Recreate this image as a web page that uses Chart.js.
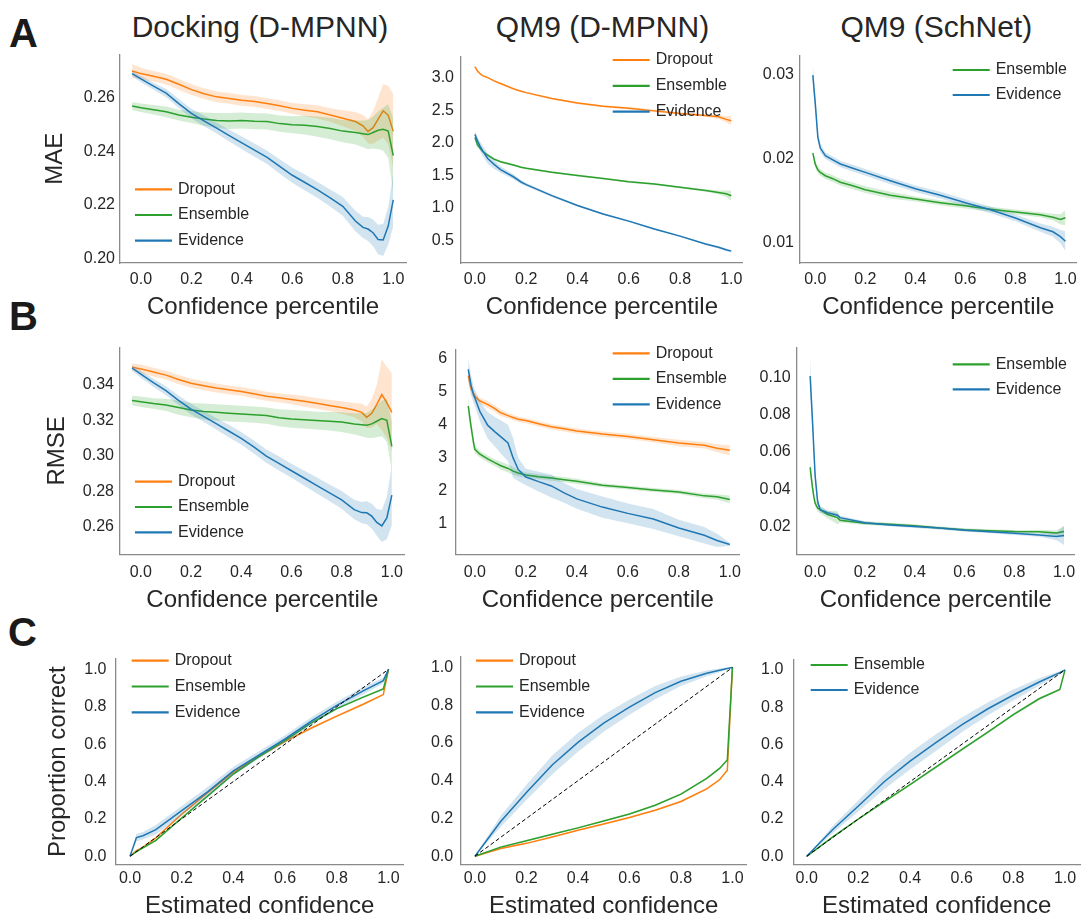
<!DOCTYPE html>
<html><head><meta charset="utf-8">
<script src="https://cdn.jsdelivr.net/npm/chart.js@4.4.1/dist/chart.umd.min.js"></script>
<style>
html,body{margin:0;padding:0;background:#fff;overflow:hidden;width:1084px;height:918px;}
canvas{position:absolute;}
.t{position:absolute;font-family:"Liberation Sans",Arial,Helvetica,sans-serif;color:#262626;white-space:nowrap;line-height:1;}
.col{font-size:30px;transform:translateX(-50%);}
.let{font-size:40px;font-weight:bold;color:#1a1a1a;}
</style></head><body>
<div class="t let" style="left:9px;top:13px">A</div>
<div class="t let" style="left:9px;top:295.5px">B</div>
<div class="t let" style="left:8px;top:612px">C</div>
<div class="t col" style="left:260px;top:12px">Docking (D-MPNN)</div>
<div class="t col" style="left:602.5px;top:12px">QM9 (D-MPNN)</div>
<div class="t col" style="left:936.3px;top:12px">QM9 (SchNet)</div>
<script>
// ---------------- DATA ----------------
const xTickLabels = ['0.0','0.2','0.4','0.6','0.8','1.0'];
const calTickLabels = ['0.0','0.2','0.4','0.6','0.8','1.0'];
const DIAG = [0, 1];

// Docking (D-MPNN) confidence percentile grid (rows A and B)
const dockX = [-0.035,0.0,0.05,0.1,0.15,0.2,0.25,0.3,0.35,0.4,0.45,0.5,0.55,0.6,0.65,0.7,0.75,0.8,0.85,0.88,0.9,0.92,0.94,0.96,0.98,1.0];
// A1 MAE
const dockMaeDropout = [0.2700,0.2690,0.2680,0.2669,0.2650,0.2630,0.2615,0.2603,0.2597,0.2590,0.2586,0.2578,0.2570,0.2560,0.2553,0.2547,0.2535,0.2523,0.2511,0.2495,0.2474,0.2488,0.2520,0.2551,0.2535,0.2474];
const dockMaeDropoutErr = [0.0025,0.0022,0.002,0.002,0.002,0.002,0.002,0.002,0.002,0.002,0.002,0.002,0.002,0.002,0.0022,0.0025,0.0025,0.003,0.0035,0.004,0.0045,0.006,0.008,0.010,0.011,0.014];
const dockMaeEnsemble = [0.2569,0.2562,0.2555,0.2547,0.2535,0.2527,0.2520,0.2515,0.2513,0.2515,0.2512,0.2511,0.2503,0.2499,0.2497,0.2492,0.2485,0.2475,0.2470,0.2465,0.2462,0.2470,0.2478,0.2482,0.2475,0.2383];
const dockMaeEnsembleErr = [0.0015,0.0016,0.0018,0.002,0.002,0.0022,0.0025,0.0028,0.003,0.003,0.003,0.003,0.003,0.0032,0.0035,0.0038,0.004,0.0042,0.0045,0.005,0.0055,0.006,0.007,0.008,0.010,0.014];
const dockMaeEvidence = [0.2690,0.2670,0.2643,0.2617,0.2578,0.2541,0.2513,0.2486,0.2458,0.2431,0.2404,0.2377,0.2343,0.2310,0.2283,0.2255,0.2225,0.2194,0.2139,0.2115,0.2109,0.2095,0.2070,0.2068,0.2120,0.2218];
const dockMaeEvidenceErr = [0.001,0.0012,0.0013,0.0015,0.0017,0.0018,0.002,0.002,0.0022,0.0024,0.0025,0.0025,0.0027,0.0028,0.003,0.003,0.0032,0.0035,0.0038,0.004,0.0045,0.005,0.0055,0.006,0.007,0.010];
// B1 RMSE
const dockRmseDropout = [0.3500,0.3490,0.3472,0.3455,0.3430,0.3409,0.3395,0.3382,0.3372,0.3363,0.3350,0.3336,0.3327,0.3318,0.3307,0.3296,0.3284,0.3272,0.3258,0.3245,0.3217,0.3240,0.3290,0.3345,0.3300,0.3245];
const dockRmseDropoutErr = [0.002,0.0025,0.0025,0.0025,0.0025,0.0025,0.0025,0.0025,0.0025,0.0025,0.0025,0.0025,0.0025,0.0027,0.003,0.003,0.0032,0.0035,0.004,0.005,0.006,0.008,0.011,0.020,0.020,0.022];
const dockRmseEnsemble = [0.3312,0.3305,0.3295,0.3287,0.3272,0.3258,0.3250,0.3245,0.3240,0.3236,0.3232,0.3227,0.3215,0.3208,0.3204,0.3199,0.3195,0.3190,0.3180,0.3175,0.3172,0.3180,0.3195,0.3210,0.3200,0.3053];
const dockRmseEnsembleErr = [0.0027,0.003,0.003,0.0035,0.004,0.004,0.0045,0.0046,0.0046,0.0046,0.0046,0.0046,0.0048,0.005,0.005,0.005,0.0052,0.0055,0.006,0.0065,0.007,0.008,0.009,0.010,0.012,0.014];
const dockRmseEvidence = [0.3495,0.3460,0.3412,0.3367,0.3313,0.3263,0.3222,0.3181,0.3140,0.3099,0.3050,0.2998,0.2957,0.2916,0.2875,0.2834,0.2793,0.2752,0.2697,0.2680,0.2679,0.2660,0.2625,0.2605,0.2650,0.2779];
const dockRmseEvidenceErr = [0.0015,0.002,0.0022,0.0025,0.0027,0.003,0.003,0.0032,0.0035,0.0035,0.0037,0.0037,0.004,0.004,0.0042,0.0045,0.0047,0.005,0.0055,0.006,0.0065,0.007,0.0075,0.009,0.012,0.017];

// A2 QM9 (D-MPNN) MAE
const qmMaeX = [0.0,0.01,0.02,0.03,0.05,0.075,0.1,0.15,0.18,0.2,0.3,0.4,0.5,0.6,0.7,0.8,0.9,0.95,0.98,1.0];
const qmMaeDropout = [3.17,3.10,3.06,3.03,3.00,2.95,2.91,2.83,2.79,2.77,2.68,2.61,2.56,2.53,2.49,2.45,2.42,2.40,2.36,2.34];
const qmMaeDropoutErr = [0.01,0.01,0.01,0.01,0.01,0.01,0.01,0.01,0.01,0.01,0.01,0.015,0.015,0.02,0.02,0.02,0.02,0.03,0.05,0.07];
const qmMaeEnsemble = [2.08,1.97,1.92,1.87,1.81,1.75,1.71,1.66,1.625,1.61,1.55,1.50,1.455,1.405,1.37,1.32,1.27,1.24,1.22,1.19];
const qmMaeEnsembleErr = [0.04,0.04,0.03,0.03,0.02,0.02,0.02,0.015,0.015,0.015,0.015,0.015,0.015,0.015,0.015,0.015,0.02,0.03,0.05,0.08];
const qmMaeEvidence = [2.13,2.03,1.95,1.88,1.76,1.67,1.59,1.48,1.40,1.36,1.19,1.04,0.91,0.80,0.68,0.57,0.45,0.40,0.36,0.34];
const qmMaeEvidenceErr = [0.05,0.06,0.07,0.08,0.08,0.07,0.05,0.04,0.03,0.025,0.02,0.015,0.015,0.015,0.015,0.015,0.015,0.02,0.02,0.02];

// A3 QM9 (SchNet) MAE
const snMaeX = [-0.01,0.0,0.01,0.02,0.04,0.07,0.1,0.15,0.2,0.3,0.4,0.5,0.6,0.7,0.8,0.9,0.95,0.98,1.0];
const snMaeEnsemble = [0.0207,0.01935,0.0187,0.01839,0.0180,0.01765,0.01723,0.0168,0.01634,0.01568,0.01522,0.01479,0.01441,0.01401,0.01367,0.01336,0.01306,0.0128,0.0130];
const snMaeEnsembleErr = [0.0004,0.0004,0.0004,0.0004,0.0004,0.0004,0.0004,0.0004,0.0004,0.0004,0.0003,0.0003,0.0003,0.0003,0.0003,0.0003,0.0004,0.0006,0.0009];
const snMaeEvidence = [0.0300,0.0265,0.0226,0.0213,0.0204,0.0199,0.0194,0.0189,0.0184,0.0174,0.01645,0.01568,0.01479,0.01394,0.01297,0.01181,0.01132,0.01074,0.01019];
const snMaeEvidenceErr = [0.0013,0.001,0.0006,0.0005,0.0004,0.0004,0.0004,0.0004,0.0004,0.0004,0.0004,0.0004,0.0004,0.0004,0.0004,0.0005,0.0006,0.0008,0.0012];

// B2 QM9 (D-MPNN) RMSE
const qmRmseX = [-0.026,-0.015,-0.005,0.0,0.02,0.05,0.08,0.1,0.13,0.15,0.17,0.2,0.25,0.3,0.35,0.4,0.5,0.6,0.7,0.8,0.9,0.95,1.0];
const qmRmseDropout = [5.49,5.10,4.95,4.86,4.72,4.62,4.48,4.37,4.28,4.22,4.17,4.13,4.03,3.94,3.88,3.81,3.72,3.65,3.55,3.45,3.38,3.29,3.23];
const qmRmseDropoutErr = [0.2,0.15,0.12,0.1,0.1,0.1,0.1,0.1,0.08,0.08,0.08,0.08,0.08,0.08,0.08,0.08,0.08,0.08,0.08,0.1,0.1,0.12,0.15];
const qmRmseEnsemble = [4.57,3.95,3.45,3.26,3.11,2.97,2.85,2.77,2.68,2.60,2.54,2.48,2.43,2.39,2.34,2.29,2.17,2.10,2.03,1.97,1.85,1.82,1.74];
const qmRmseEnsembleErr = [0.3,0.2,0.15,0.12,0.1,0.1,0.1,0.12,0.12,0.12,0.1,0.08,0.08,0.08,0.08,0.08,0.06,0.06,0.06,0.06,0.07,0.08,0.12];
const qmRmseEvidence = [5.68,5.20,4.90,4.81,4.40,3.99,3.78,3.65,3.45,3.00,2.65,2.42,2.28,2.15,1.94,1.76,1.51,1.32,1.15,0.88,0.66,0.50,0.38];
const qmRmseEvidenceErr = [0.35,0.3,0.25,0.25,0.3,0.4,0.45,0.5,0.55,0.6,0.35,0.25,0.3,0.35,0.3,0.3,0.32,0.3,0.3,0.25,0.25,0.2,0.05];

// B3 QM9 (SchNet) RMSE
const snRmseX = [-0.02,-0.015,-0.01,-0.005,0.0,0.01,0.02,0.05,0.09,0.1,0.2,0.3,0.4,0.5,0.6,0.7,0.8,0.9,0.97,1.0];
const snRmseEnsemble = [0.0518,0.046,0.0405,0.036,0.0327,0.030,0.0292,0.0266,0.0249,0.0235,0.0219,0.0214,0.0205,0.0193,0.0184,0.0179,0.0175,0.0174,0.0167,0.0175];
const snRmseEnsembleErr = [0.005,0.004,0.003,0.0025,0.002,0.002,0.002,0.002,0.0035,0.0012,0.001,0.0008,0.0008,0.0008,0.0008,0.0008,0.0008,0.0009,0.0015,0.003];
const snRmseEvidence = [0.1007,0.088,0.0752,0.061,0.0474,0.0335,0.0292,0.0275,0.0262,0.0249,0.0222,0.0210,0.0201,0.0193,0.0182,0.0174,0.0165,0.0156,0.0148,0.0153];
const snRmseEvidenceErr = [0.01,0.008,0.006,0.004,0.003,0.002,0.0015,0.0012,0.001,0.001,0.0008,0.0007,0.0007,0.0007,0.0007,0.0008,0.0009,0.001,0.002,0.005];

// C1 Docking calibration
const dockCalX = [0,0.025,0.05,0.1,0.2,0.3,0.4,0.5,0.6,0.7,0.8,0.9,0.98,1.0];
const dockCalDropout = [0,0.03,0.048,0.099,0.225,0.34,0.45,0.535,0.615,0.685,0.75,0.812,0.865,1.0];
const dockCalDropoutErr = [0,0.005,0.005,0.006,0.006,0.006,0.006,0.006,0.006,0.006,0.006,0.006,0.005,0];
const dockCalEnsemble = [0,0.025,0.045,0.085,0.205,0.322,0.44,0.535,0.62,0.712,0.79,0.85,0.895,1.0];
const dockCalEnsembleErr = [0,0.005,0.005,0.006,0.006,0.006,0.006,0.006,0.006,0.006,0.006,0.006,0.005,0];
const dockCalEvidence = [0,0.1,0.11,0.142,0.244,0.345,0.457,0.543,0.628,0.722,0.807,0.884,0.94,1.0];
const dockCalEvidenceErr = [0,0.02,0.02,0.025,0.025,0.025,0.022,0.02,0.02,0.02,0.02,0.02,0.015,0];

// C2 QM9 (D-MPNN) calibration
const qmCalX = [0,0.1,0.2,0.3,0.4,0.5,0.6,0.7,0.8,0.9,0.95,0.98,1.0];
const qmCalDropout = [0,0.041,0.068,0.102,0.137,0.171,0.205,0.243,0.29,0.357,0.405,0.455,1.0];
const qmCalDropoutErr = [0,0.004,0.004,0.004,0.004,0.004,0.004,0.004,0.005,0.005,0.005,0.005,0];
const qmCalEnsemble = [0,0.048,0.082,0.116,0.15,0.186,0.224,0.270,0.329,0.412,0.465,0.51,1.0];
const qmCalEnsembleErr = [0,0.004,0.004,0.004,0.004,0.004,0.004,0.004,0.005,0.005,0.005,0.005,0];
const qmCalEvidence = [0,0.184,0.338,0.483,0.603,0.705,0.790,0.867,0.927,0.969,0.985,0.995,1.0];
const qmCalEvidenceErr = [0,0.03,0.04,0.05,0.05,0.045,0.04,0.035,0.025,0.015,0.01,0.005,0];

// C3 QM9 (SchNet) calibration
const snCalX = [0,0.1,0.2,0.3,0.4,0.5,0.6,0.7,0.8,0.9,0.98,1.0];
const snCalEnsemble = [0,0.103,0.2,0.293,0.385,0.478,0.572,0.665,0.76,0.845,0.895,1.0];
const snCalEnsembleErr = [0,0.006,0.006,0.006,0.006,0.007,0.007,0.007,0.007,0.007,0.005,0];
const snCalEvidence = [0,0.142,0.27,0.40,0.51,0.61,0.705,0.79,0.865,0.935,0.985,1.0];
const snCalEvidenceErr = [0,0.02,0.03,0.04,0.045,0.045,0.04,0.035,0.03,0.02,0.008,0];

// y tick labels
const yTicksA1 = ['0.20','0.22','0.24','0.26'];
const yTicksA2 = ['0.5','1.0','1.5','2.0','2.5','3.0'];
const yTicksA3 = ['0.01','0.02','0.03'];
const yTicksB1 = ['0.26','0.28','0.30','0.32','0.34'];
const yTicksB2 = ['1','2','3','4','5','6'];
const yTicksB3 = ['0.02','0.04','0.06','0.08','0.10'];
const yTicksC = ['0.0','0.2','0.4','0.6','0.8','1.0'];

// ---------------- RENDERING ----------------
const FONT = '"Liberation Sans", Arial, Helvetica, sans-serif';
const TXT = '#262626';
const SPINE = '#8a8a8a';
const COLORS = {Dropout:'#ff7f0e', Ensemble:'#2ca02c', Evidence:'#1f77b4'};
Chart.defaults.font.family = FONT;
Chart.defaults.color = TXT;

function rgba(hex, a){
  const n = parseInt(hex.slice(1),16);
  return `rgba(${(n>>16)&255},${(n>>8)&255},${n&255},${a})`;
}
function pts(xs, ys, err, sgn){
  return xs.map((x,i)=>({x:x, y: err ? ys[i] + sgn*err[i] : ys[i]}));
}

const panelLegend = {
  id: 'panelLegend',
  afterDraw(chart, args, o){
    const ctx = chart.ctx;
    const items = chart.data.datasets.filter(d => d.legendItem);
    ctx.save();
    ctx.font = '16px ' + FONT;
    ctx.textBaseline = 'middle';
    ctx.textAlign = 'left';
    items.forEach((d,i)=>{
      const y = o.y - o.offY + i*o.gap;
      const x = o.x - o.offX;
      ctx.strokeStyle = d.borderColor; ctx.lineWidth = 2.2; ctx.setLineDash([]);
      ctx.beginPath(); ctx.moveTo(x, y); ctx.lineTo(x+37, y); ctx.stroke();
      ctx.fillStyle = TXT;
      ctx.fillText(d.label, x+43, y);
    });
    ctx.restore();
  }
};

function makePanel(p){
  const cv = document.createElement('canvas');
  const W = p.canvas.r - p.canvas.l, H = p.canvas.b - p.canvas.t;
  cv.width = W; cv.height = H;
  cv.style.left = p.canvas.l + 'px'; cv.style.top = p.canvas.t + 'px';
  cv.style.width = W + 'px'; cv.style.height = H + 'px';
  document.body.appendChild(cv);
  const yW = p.chart.l - p.canvas.l;
  const xH = p.canvas.b - p.chart.b;
  const padTop = p.chart.t - p.canvas.t;
  const padRight = p.canvas.r - p.chart.r;
  const datasets = [];
  p.series.forEach((s, si)=>{
    const col = COLORS[s.name];
    const base = 100 - si*10;
    datasets.push({label: s.name+' upper', data: pts(p.x, s.mean, s.err, 1), borderColor:'rgba(0,0,0,0)', borderWidth:1, pointRadius:0, fill:false, order: base+2});
    datasets.push({label: s.name+' lower', data: pts(p.x, s.mean, s.err, -1), borderColor:'rgba(0,0,0,0)', borderWidth:1, pointRadius:0, fill:'-1', backgroundColor: rgba(col,0.2), order: base+1});
    datasets.push({label: s.name, data: pts(p.x, s.mean, null, 0), borderColor: col, borderWidth:1.5, pointRadius:0, fill:false, order: base, legendItem:true});
  });
  if (p.diag){
    datasets.push({label:'ideal', data: DIAG.map(v=>({x:v, y:v})), borderColor:'#000', borderWidth:1, borderDash:[4,2.5], pointRadius:0, fill:false, order:0});
  }
  const lh = 24*1.2/2;
  new Chart(cv, {
    type:'line',
    data:{datasets},
    options:{
      responsive:false, animation:false, devicePixelRatio:1, events:[],
      layout:{padding:{top:padTop, right:padRight, left:0, bottom:0}, autoPadding:false},
      plugins:{
        legend:{display:false}, tooltip:{enabled:false},
        panelLegend:{x:p.leg.x, y:p.leg.y, gap:p.leg.gap, offX:p.canvas.l, offY:p.canvas.t}
      },
      scales:{
        x:{
          type:'linear', min:p.xr[0], max:p.xr[1], bounds:'data',
          afterBuildTicks: s => { s.ticks = p.xt.map(t=>({value: parseFloat(t)})); },
          afterFit: s => { s.height = xH; },
          grid:{display:false, drawTicks:false},
          border:{display:true, color:SPINE, width:1.3},
          ticks:{padding:p.xpad, color:TXT, font:{size:16}, maxRotation:0, autoSkip:false, callback:(v,i)=>p.xt[i]},
          title:{display:true, text:p.xtitle, color:TXT, font:{size:24}, padding:{top:0, bottom: p.canvas.b - p.xtitleY - lh}}
        },
        y:{
          type:'linear', position:'left', min:p.yr[0], max:p.yr[1], bounds:'data',
          afterBuildTicks: s => { s.ticks = p.yt.map(t=>({value: parseFloat(t)})); },
          afterFit: s => { s.width = yW; },
          grid:{display:false, drawTicks:false},
          border:{display:true, color:SPINE, width:1.3},
          ticks:{padding:p.ypad, color:TXT, font:{size:16}, autoSkip:false, callback:(v,i)=>p.yt[i]},
          title:{display:!!p.ytitle, text:p.ytitle || '', color:TXT, font:{size:24}, padding:{top: p.ytitleX ? p.ytitleX - p.canvas.l - lh : 0, bottom:0}}
        }
      }
    },
    plugins:[panelLegend]
  });
}

const rowA = {t:40, b:330}, rowB = {t:332, b:625}, rowC = {t:640, b:925};
const panels = [
  {canvas:{l:0,t:rowA.t,r:412,b:rowA.b}, chart:{l:120,t:50,r:407,b:263}, xr:[-0.083,1.0514], yr:[0.1982,0.2761],
   x:dockX, xt:xTickLabels, yt:yTicksA1, xpad:7.4, ypad:5, xtitle:'Confidence percentile', xtitleY:307.5, ytitle:'MAE', ytitleX:55.3,
   leg:{x:135,y:189.3,gap:25.7},
   series:[{name:'Dropout',mean:dockMaeDropout,err:dockMaeDropoutErr},{name:'Ensemble',mean:dockMaeEnsemble,err:dockMaeEnsembleErr},{name:'Evidence',mean:dockMaeEvidence,err:dockMaeEvidenceErr}]},
  {canvas:{l:400,t:rowA.t,r:750,b:rowA.b}, chart:{l:461,t:50,r:745,b:263}, xr:[-0.0542,1.0453], yr:[0.158,3.322],
   x:qmMaeX, xt:xTickLabels, yt:yTicksA2, xpad:7.4, ypad:7, xtitle:'Confidence percentile', xtitleY:307.5,
   leg:{x:612.7,y:60,gap:25.8},
   series:[{name:'Dropout',mean:qmMaeDropout,err:qmMaeDropoutErr},{name:'Ensemble',mean:qmMaeEnsemble,err:qmMaeEnsembleErr},{name:'Evidence',mean:qmMaeEvidence,err:qmMaeEvidenceErr}]},
  {canvas:{l:740,t:rowA.t,r:1084,b:rowA.b}, chart:{l:800,t:50,r:1083,b:263}, xr:[-0.0613,1.044], yr:[0.0076,0.03232],
   x:snMaeX, xt:xTickLabels, yt:yTicksA3, xpad:7.4, ypad:6, xtitle:'Confidence percentile', xtitleY:307.5,
   leg:{x:952.7,y:70,gap:25},
   series:[{name:'Ensemble',mean:snMaeEnsemble,err:snMaeEnsembleErr},{name:'Evidence',mean:snMaeEvidence,err:snMaeEvidenceErr}]},
  {canvas:{l:0,t:rowB.t,r:412,b:rowB.b}, chart:{l:120,t:341.7,r:407,b:554.3}, xr:[-0.083,1.0514], yr:[0.2445,0.3610],
   x:dockX, xt:xTickLabels, yt:yTicksB1, xpad:8.8, ypad:6, xtitle:'Confidence percentile', xtitleY:600.5, ytitle:'RMSE', ytitleX:57.2,
   leg:{x:135,y:481.7,gap:25.3},
   series:[{name:'Dropout',mean:dockRmseDropout,err:dockRmseDropoutErr},{name:'Ensemble',mean:dockRmseEnsemble,err:dockRmseEnsembleErr},{name:'Evidence',mean:dockRmseEvidence,err:dockRmseEvidenceErr}]},
  {canvas:{l:400,t:rowB.t,r:750,b:rowB.b}, chart:{l:455.7,t:341.7,r:741.7,b:554.3}, xr:[-0.0752,1.039], yr:[0.0814,6.262],
   x:qmRmseX, xt:xTickLabels, yt:yTicksB2, xpad:8.8, ypad:8.5, xtitle:'Confidence percentile', xtitleY:600.5,
   leg:{x:612.7,y:353.3,gap:25.5},
   series:[{name:'Dropout',mean:qmRmseDropout,err:qmRmseDropoutErr},{name:'Ensemble',mean:qmRmseEnsemble,err:qmRmseEnsembleErr},{name:'Evidence',mean:qmRmseEvidence,err:qmRmseEvidenceErr}]},
  {canvas:{l:740,t:rowB.t,r:1084,b:rowB.b}, chart:{l:796.7,t:341.7,r:1083,b:554.3}, xr:[-0.074,1.044], yr:[0.00527,0.1159],
   x:snRmseX, xt:xTickLabels, yt:yTicksB3, xpad:8.8, ypad:6, xtitle:'Confidence percentile', xtitleY:600.5,
   leg:{x:952.7,y:364.3,gap:25},
   series:[{name:'Ensemble',mean:snRmseEnsemble,err:snRmseEnsembleErr},{name:'Evidence',mean:snRmseEvidence,err:snRmseEvidenceErr}]},
  {canvas:{l:0,t:rowC.t,r:410,b:rowC.b}, chart:{l:116,t:650,r:403.3,b:864.3}, xr:[-0.0542,1.0573], yr:[-0.043,1.055],
   x:dockCalX, xt:calTickLabels, yt:yTicksC, xpad:4.4, ypad:9.5, xtitle:'Estimated confidence', xtitleY:906.3, ytitle:'Proportion correct', ytitleX:58.3,
   leg:{x:131.7,y:660.7,gap:25.8}, diag:true,
   series:[{name:'Dropout',mean:dockCalDropout,err:dockCalDropoutErr},{name:'Ensemble',mean:dockCalEnsemble,err:dockCalEnsembleErr},{name:'Evidence',mean:dockCalEvidence,err:dockCalEvidenceErr}]},
  {canvas:{l:400,t:rowC.t,r:750,b:rowC.b}, chart:{l:460.7,t:650,r:746.7,b:864.3}, xr:[-0.0552,1.0553], yr:[-0.043,1.055],
   x:qmCalX, xt:calTickLabels, yt:yTicksC, xpad:4.4, ypad:7.5, xtitle:'Estimated confidence', xtitleY:906.3,
   leg:{x:476,y:660.7,gap:25.8}, diag:true,
   series:[{name:'Dropout',mean:qmCalDropout,err:qmCalDropoutErr},{name:'Ensemble',mean:qmCalEnsemble,err:qmCalEnsembleErr},{name:'Evidence',mean:qmCalEvidence,err:qmCalEvidenceErr}]},
  {canvas:{l:740,t:rowC.t,r:1084,b:rowC.b}, chart:{l:793.3,t:650,r:1080,b:864.3}, xr:[-0.0519,1.058], yr:[-0.043,1.055],
   x:snCalX, xt:calTickLabels, yt:yTicksC, xpad:4.4, ypad:10, xtitle:'Estimated confidence', xtitleY:906.3,
   leg:{x:810.7,y:665,gap:25}, diag:true,
   series:[{name:'Ensemble',mean:snCalEnsemble,err:snCalEnsembleErr},{name:'Evidence',mean:snCalEvidence,err:snCalEvidenceErr}]}
];
panels.forEach(makePanel);
</script>
</body></html>
